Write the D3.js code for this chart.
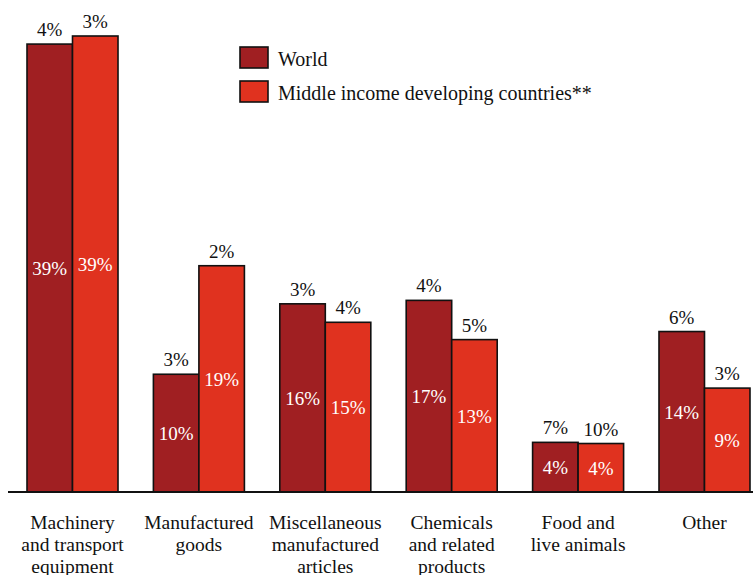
<!DOCTYPE html>
<html>
<head>
<meta charset="utf-8">
<script src="https://cdn.jsdelivr.net/npm/d3@7"></script>
<style>
  body { margin: 0; background: #fff; }
  text { font-family: "Liberation Serif", "Times New Roman", serif; }
</style>
</head>
<body>
<div id="chart"></div>
<script>
var width = 753;
var height = 575;

var categories = [
  ["Machinery", "and transport", "equipment"],
  ["Manufactured", "goods"],
  ["Miscellaneous", "manufactured", "articles"],
  ["Chemicals", "and related", "products"],
  ["Food and", "live animals"],
  ["Other"]
];
var seriesNames = ["World", "Middle income developing countries**"];
var colors = ["#a01f22", "#e0321f"];

// share of exports (bar height) and the label above each bar
var worldShare = [38.8, 10.2, 16.3, 16.6, 4.3, 13.9];
var midShare = [39.5, 19.6, 14.7, 13.2, 4.2, 9.0];
var worldShareLabel = ["39%", "10%", "16%", "17%", "4%", "14%"];
var midShareLabel = ["39%", "19%", "15%", "13%", "4%", "9%"];
var worldTopLabel = ["4%", "3%", "3%", "4%", "7%", "6%"];
var midTopLabel = ["3%", "2%", "4%", "5%", "10%", "3%"];

var baseY = 492;

var svg = d3.select("#chart")
  .append("svg")
  .attr("width", width)
  .attr("height", height);

var x0 = d3.scaleBand()
  .domain(d3.range(categories.length))
  .range([27, 750])
  .paddingInner(0.28)
  .paddingOuter(0);

var x1 = d3.scaleBand()
  .domain([0, 1])
  .range([0, x0.bandwidth()]);

var y = d3.scaleLinear()
  .domain([0, 39.5])
  .range([baseY, 36]);

var rows = [];
categories.forEach(function(c, i) {
  rows.push({cat: i, s: 0, v: worldShare[i], inner: worldShareLabel[i], top: worldTopLabel[i]});
  rows.push({cat: i, s: 1, v: midShare[i], inner: midShareLabel[i], top: midTopLabel[i]});
});

var bars = svg.append("g");

bars.selectAll("rect")
  .data(rows)
  .enter().append("rect")
  .attr("x", function(d) { return x0(d.cat) + x1(d.s); })
  .attr("y", function(d) { return y(d.v); })
  .attr("width", x1.bandwidth())
  .attr("height", function(d) { return baseY - y(d.v); })
  .attr("fill", function(d) { return colors[d.s]; })
  .attr("stroke", "#111")
  .attr("stroke-width", 1.6);

bars.selectAll("text.inner")
  .data(rows)
  .enter().append("text")
  .attr("class", "inner")
  .attr("x", function(d) { return x0(d.cat) + x1(d.s) + x1.bandwidth() / 2; })
  .attr("y", function(d) { return (y(d.v) + baseY) / 2 + 7; })
  .attr("text-anchor", "middle")
  .attr("fill", "#fff")
  .attr("font-size", "19px")
  .text(function(d) { return d.inner; });

bars.selectAll("text.top")
  .data(rows)
  .enter().append("text")
  .attr("class", "top")
  .attr("x", function(d) { return x0(d.cat) + x1(d.s) + x1.bandwidth() / 2; })
  .attr("y", function(d) { return y(d.v) - 8; })
  .attr("text-anchor", "middle")
  .attr("fill", "#111")
  .attr("font-size", "19px")
  .text(function(d) { return d.top; });

// baseline
svg.append("line")
  .attr("x1", 8)
  .attr("x2", width)
  .attr("y1", baseY)
  .attr("y2", baseY)
  .attr("stroke", "#111")
  .attr("stroke-width", 2);

// category labels
var labels = svg.append("g");
categories.forEach(function(lines, i) {
  var t = labels.append("text")
    .attr("x", x0(i) + x0.bandwidth() / 2)
    .attr("y", 529)
    .attr("text-anchor", "middle")
    .attr("fill", "#111")
    .attr("font-size", "19.5px");
  lines.forEach(function(l, j) {
    t.append("tspan")
      .attr("x", x0(i) + x0.bandwidth() / 2)
      .attr("dy", j === 0 ? 0 : 22)
      .text(l);
  });
});

// legend
var legend = svg.append("g")
  .attr("transform", "translate(240,47)");

seriesNames.forEach(function(name, i) {
  legend.append("rect")
    .attr("x", 0)
    .attr("y", i * 34)
    .attr("width", 28)
    .attr("height", 21)
    .attr("fill", colors[i])
    .attr("stroke", "#111")
    .attr("stroke-width", 1.6);
  legend.append("text")
    .attr("x", 38)
    .attr("y", i * 34 + 18.5)
    .attr("fill", "#111")
    .attr("font-size", "20px")
    .text(name);
});
</script>
</body>
</html>
